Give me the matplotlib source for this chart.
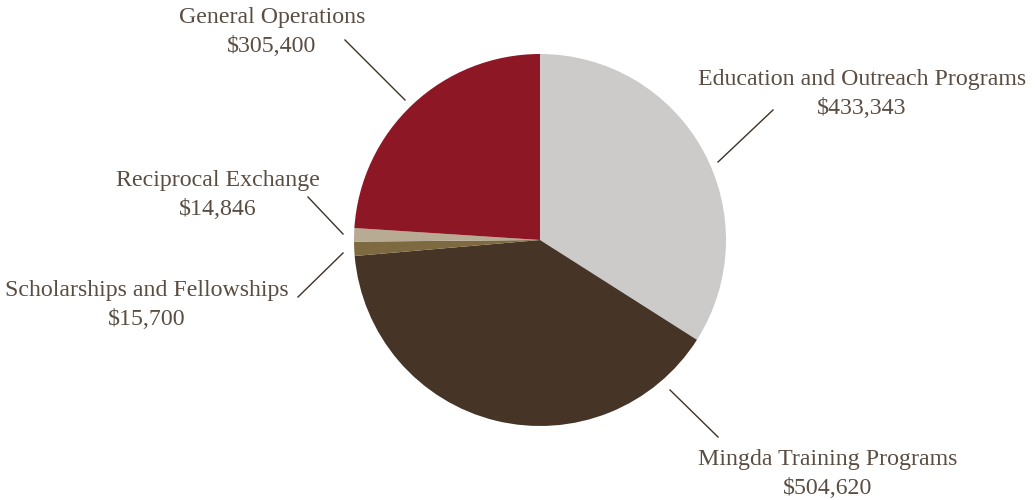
import matplotlib.pyplot as plt

CATEGORIAS = [
    "Education and Outreach Programs",
    "Mingda Training Programs",
    "Scholarships and Fellowships",
    "Reciprocal Exchange",
    "General Operations",
]
VALORES = [433343, 504620, 15700, 14846, 305400]
CORES = ["#cccbca", "#463526", "#7d6a40", "#b8ab94", "#8e1726"]

# layout em pixels (origem no canto superior esquerdo)
CENTRO = (540, 240)
RAIO = 186
TEXTO_POS = [(862, 94), (828, 474), (147, 305), (218, 195), (272, 32)]
LINHAS = [
    ((718, 162), (773, 110)),
    ((670, 390), (718, 437)),
    ((343, 253), (298, 297)),
    ((343, 234), (308, 197)),
    ((405, 100), (345, 40)),
]

COR_TEXTO = "#5a4d42"
COR_LINHA = "#3e3128"
ALTURA = 500


def main() -> None:
    fig = plt.figure(figsize=(10.35, 5), dpi=100)
    ax = fig.add_axes([0, 0, 1, 1])

    ax.pie(
        VALORES,
        colors=CORES,
        startangle=90,
        counterclock=False,
        center=(CENTRO[0], ALTURA - CENTRO[1]),
        radius=RAIO,
        frame=True,
    )
    ax.set_xlim(0, 1035)
    ax.set_ylim(0, ALTURA)
    ax.set_aspect("equal")
    ax.axis("off")

    for nome, valor, (tx, ty), (p0, p1) in zip(CATEGORIAS, VALORES, TEXTO_POS, LINHAS):
        ax.plot([p0[0], p1[0]], [ALTURA - p0[1], ALTURA - p1[1]],
                color=COR_LINHA, lw=1.0)
        ax.text(tx, ALTURA - ty, f"{nome}\n${valor:,}", ha="center", va="center",
                fontsize=17.2, family="Liberation Serif", color=COR_TEXTO,
                linespacing=1.45)

    fig.savefig("out.png", dpi=100)
    plt.close(fig)


if __name__ == "__main__":
    main()
